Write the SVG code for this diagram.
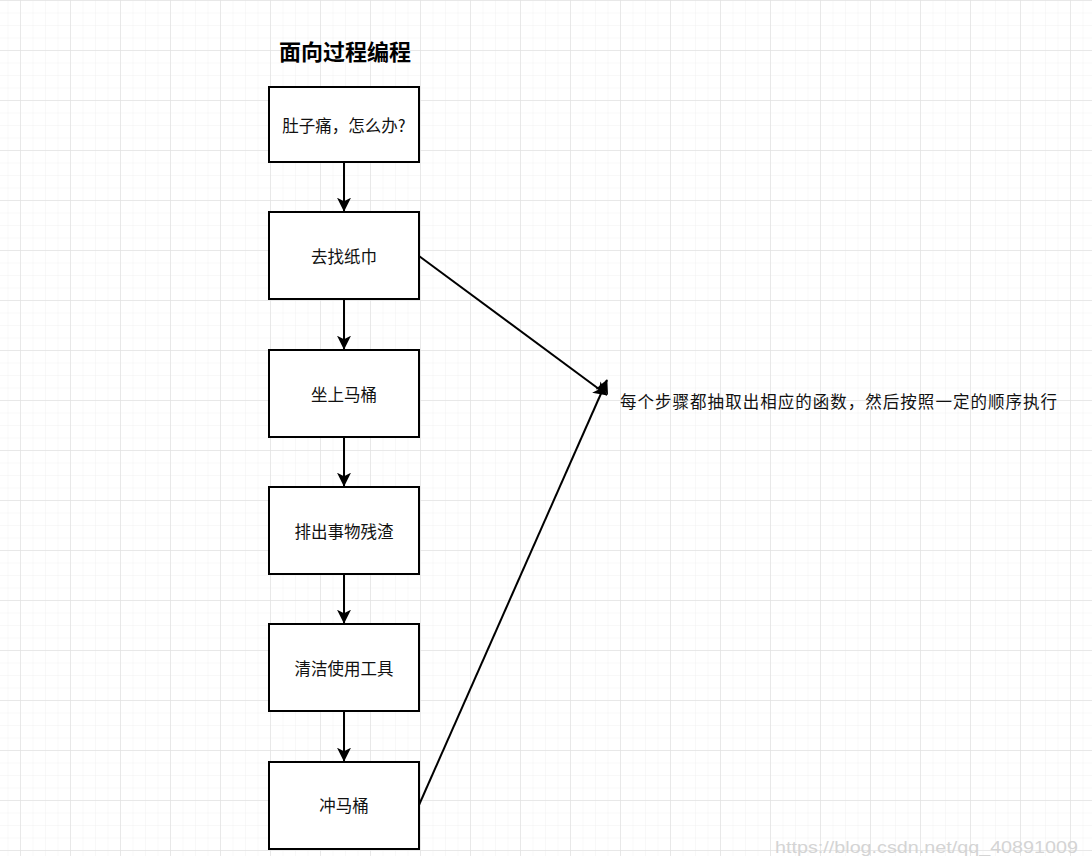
<svg xmlns="http://www.w3.org/2000/svg" width="1092" height="856" viewBox="0 0 1092 856">
<style>
.box{fill:#fff;stroke:#000;stroke-width:2}
.lbl{font-family:"Noto Sans CJK SC","Liberation Sans",sans-serif;font-size:16.5px;fill:#111;text-anchor:middle;dominant-baseline:central}
.edge{stroke:#000;stroke-width:2;fill:none}
</style>
<defs>
<pattern id="minor" x="20" y="0" width="12.5" height="12.5" patternUnits="userSpaceOnUse">
<path d="M0 0V12.5M0 0H12.5" stroke="#f1f1f1" stroke-width="1" fill="none"/>
</pattern>
<pattern id="major" x="20" y="0" width="50" height="50" patternUnits="userSpaceOnUse">
<path d="M0 0V50M0 0H50" stroke="#e3e3e3" stroke-width="1.5" fill="none"/>
</pattern>
<marker id="arr" viewBox="0 0 10 10" refX="9.5" refY="5" markerWidth="7" markerHeight="7" orient="auto" markerUnits="strokeWidth">
<path d="M0 0L10 5L0 10L2.5 5Z" fill="#000"/>
</marker>
</defs>
<rect width="1092" height="856" fill="#fff"/>
<rect width="1092" height="856" fill="url(#minor)"/>
<rect width="1092" height="856" fill="url(#major)"/>

<text x="345" y="50" font-family="'Noto Sans CJK SC','Liberation Sans',sans-serif" font-size="22" font-weight="bold" text-anchor="middle" dominant-baseline="central" fill="#000">面向过程编程</text>

<g id="connectors">
<line class="edge" x1="344" y1="162" x2="344" y2="211" marker-end="url(#arr)"/>
<line class="edge" x1="344" y1="299" x2="344" y2="349" marker-end="url(#arr)"/>
<line class="edge" x1="344" y1="437" x2="344" y2="486" marker-end="url(#arr)"/>
<line class="edge" x1="344" y1="574" x2="344" y2="623" marker-end="url(#arr)"/>
<line class="edge" x1="344" y1="711" x2="344" y2="761" marker-end="url(#arr)"/>
<line class="edge" x1="419" y1="256" x2="607" y2="395" marker-end="url(#arr)"/>
<line class="edge" x1="419" y1="805" x2="607" y2="380" marker-end="url(#arr)"/>
</g>

<g id="n1"><rect class="box" x="269" y="87" width="150" height="75"/><text class="lbl" x="344" y="125">肚子痛，怎么办?</text></g>
<g id="n2"><rect class="box" x="269" y="212" width="150" height="87"/><text class="lbl" x="344" y="256">去找纸巾</text></g>
<g id="n3"><rect class="box" x="269" y="350" width="150" height="87"/><text class="lbl" x="344" y="394">坐上马桶</text></g>
<g id="n4"><rect class="box" x="269" y="487" width="150" height="87"/><text class="lbl" x="344" y="531">排出事物残渣</text></g>
<g id="n5"><rect class="box" x="269" y="624" width="150" height="87"/><text class="lbl" x="344" y="668">清洁使用工具</text></g>
<g id="n6"><rect class="box" x="269" y="762" width="150" height="87"/><text class="lbl" x="344" y="805">冲马桶</text></g>

<g id="note"><text x="620" y="401" font-family="'Noto Sans CJK SC','Liberation Sans',sans-serif" font-size="16.5" fill="#111" dominant-baseline="central" textLength="437" lengthAdjust="spacing">每个步骤都抽取出相应的函数，然后按照一定的顺序执行</text></g>

<text x="775" y="853" font-family="'Liberation Sans',sans-serif" font-size="17" fill="#d4d4d4" textLength="303" lengthAdjust="spacingAndGlyphs">https://blog.csdn.net/qq_40891009</text>
</svg>
